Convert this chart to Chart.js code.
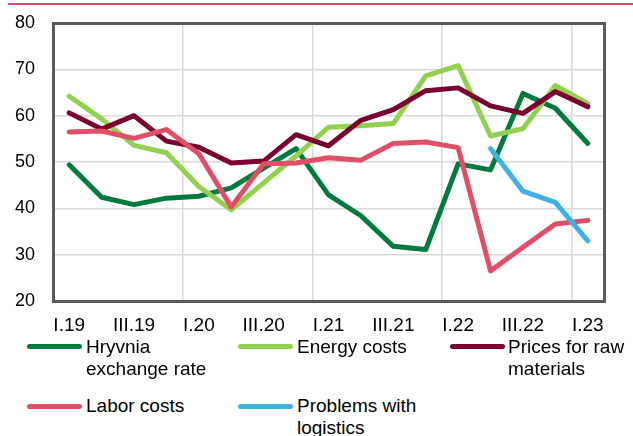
<!DOCTYPE html>
<html>
<head>
<meta charset="utf-8">
<script src="https://cdn.jsdelivr.net/npm/chart.js@4/dist/chart.umd.min.js"></script>
<style>
  html, body { margin: 0; padding: 0; background: #fff; }
  #wrap { position: relative; width: 633px; height: 436px; overflow: hidden; font-family: 'Liberation Sans', Arial, sans-serif; }
  #topline { position: absolute; left: 8px; top: 3px; width: 625px; height: 2px; background: #D64F6A; }
  #cbox { position: absolute; left: 0; top: 0; width: 633px; height: 340px; }
  .lg-line { position: absolute; width: 55px; height: 5px; border-radius: 3px; }
  .lg-text { position: absolute; font-size: 19px; line-height: 22px; color: #000; white-space: nowrap; }
</style>
</head>
<body>
<div id="wrap">
  <div id="cbox"><canvas id="c" width="633" height="340"></canvas></div>
  <div id="topline"></div>
  <div id="legend"></div>
</div>
<script>
const categories = ['I.19','II.19','III.19','IV.19','I.20','II.20','III.20','IV.20','I.21','II.21','III.21','IV.21','I.22','II.22','III.22','IV.22','I.23'];
const yTicks = [20, 30, 40, 50, 60, 70, 80];
const seriesNames = ['Hryvnia exchange rate', 'Energy costs', 'Prices for raw materials', 'Labor costs', 'Problems with logistics'];
const hryvnia   = [49.4, 42.4, 40.8, 42.2, 42.6, 44.4, 48.7, 52.9, 42.9, 38.4, 31.8, 31.1, 49.6, 48.3, 64.8, 61.6, 54.0];
const energy    = [64.2, 59.3, 53.6, 52.0, 44.7, 39.7, 45.5, 51.3, 57.5, 57.8, 58.3, 68.6, 70.8, 55.6, 57.2, 66.5, 62.6];
const rawMat    = [60.6, 57.1, 60.0, 54.5, 53.2, 49.8, 50.2, 55.9, 53.5, 59.0, 61.3, 65.4, 66.0, 62.1, 60.5, 65.2, 61.9];
const labor     = [56.5, 56.7, 55.1, 57.0, 51.8, 40.3, 49.6, 49.8, 50.9, 50.4, 54.0, 54.3, 53.1, 26.5, 31.6, 36.6, 37.4];
const logistics = [null, null, null, null, null, null, null, null, null, null, null, null, null, 52.9, 43.7, 41.3, 33.0];

const colors = ['#007A3D', '#92D050', '#7A0030', '#DF4F67', '#41B0E4'];
const values = [hryvnia, energy, rawMat, labor, logistics];

const FONT = "'Liberation Sans', Arial, sans-serif";
const FRAME = '#5A5A5A';
const GRID = '#D9D9D9';

const datasets = values.map((v, i) => ({
  label: seriesNames[i],
  data: v,
  borderColor: colors[i],
  backgroundColor: colors[i],
  borderWidth: 5,
  pointRadius: 0,
  pointHoverRadius: 0,
  tension: 0,
  spanGaps: false,
  borderCapStyle: 'round',
  borderJoinStyle: 'round',
  order: 5 - i
}));

const framePlugin = {
  id: 'plotFrame',
  afterDraw(chart) {
    const a = chart.chartArea;
    const ctx = chart.ctx;
    const L = Math.round(a.left), T = Math.round(a.top), R = Math.round(a.right), B = Math.round(a.bottom);
    const w = 3;
    ctx.save();
    ctx.fillStyle = FRAME;
    ctx.fillRect(L - 1, T - 1, R - L + 2, w);      // top
    ctx.fillRect(L - 1, B - 1, R - L + 2, w);      // bottom
    ctx.fillRect(L - 1, T - 1, w, B - T + 2);      // left
    ctx.fillRect(R - 1, T - 1, w, B - T + 3);      // right
    ctx.restore();
  }
};

new Chart(document.getElementById('c'), {
  type: 'line',
  data: { labels: categories, datasets },
  plugins: [framePlugin],
  options: {
    responsive: false,
    animation: false,
    devicePixelRatio: 1,
    layout: { padding: { top: 23, right: 29, left: 0, bottom: 0 } },
    plugins: { legend: { display: false }, tooltip: { enabled: false }, title: { display: false } },
    scales: {
      x: {
        type: 'category',
        offset: true,
        afterFit: (s) => { s.height = 39; s.paddingLeft = 0; s.paddingRight = 0; },
        grid: {
          offset: true,
          drawTicks: false,
          color: (ctx) => (ctx.type === 'tick' && ctx.index > 0 && ctx.index < categories.length && ctx.index % 4 === 0 ? GRID : 'rgba(0,0,0,0)'),
          lineWidth: 1.5
        },
        border: { display: false },
        ticks: {
          autoSkip: false,
          maxRotation: 0,
          padding: 13,
          color: '#000',
          font: { family: FONT, size: 19 },
          callback: function (val, idx) { return idx % 2 === 0 ? this.getLabelForValue(val) : ''; }
        }
      },
      y: {
        min: yTicks[0],
        max: yTicks[yTicks.length - 1],
        afterFit: (s) => { s.width = 53; s.paddingTop = 0; s.paddingBottom = 0; },
        afterBuildTicks: (s) => { s.ticks = yTicks.map(v => ({ value: v })); },
        grid: {
          drawTicks: false,
          color: GRID,
          lineWidth: 1.5
        },
        border: { display: false },
        ticks: {
          padding: 18,
          color: '#000',
          font: { family: FONT, size: 18 }
        }
      }
    }
  }
});

// HTML legend
const legendItems = [
  { idx: 0, lines: ['Hryvnia', 'exchange rate'], lineX: 27, textX: 86, row: 0 },
  { idx: 1, lines: ['Energy costs'], lineX: 238, textX: 297, row: 0 },
  { idx: 2, lines: ['Prices for raw', 'materials'], lineX: 450, textX: 508, row: 0 },
  { idx: 3, lines: ['Labor costs'], lineX: 27, textX: 86, row: 1 },
  { idx: 4, lines: ['Problems with', 'logistics'], lineX: 238, textX: 297, row: 1 }
];
const rowLineY = [343.5, 403.5];
const rowTextY = [335.7, 395.1];
const lg = document.getElementById('legend');
legendItems.forEach(it => {
  const ln = document.createElement('div');
  ln.className = 'lg-line';
  ln.style.left = it.lineX + 'px';
  ln.style.top = rowLineY[it.row] + 'px';
  ln.style.background = colors[it.idx];
  lg.appendChild(ln);
  const tx = document.createElement('div');
  tx.className = 'lg-text';
  tx.style.left = it.textX + 'px';
  tx.style.top = rowTextY[it.row] + 'px';
  tx.innerHTML = it.lines.join('<br>');
  lg.appendChild(tx);
});
</script>
</body>
</html>
